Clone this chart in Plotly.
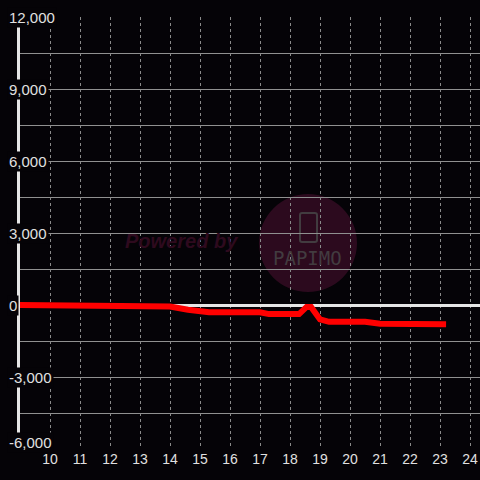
import plotly.graph_objects as go

# data
hours = [9, 12.3, 13.0, 14.0, 14.6, 15.3, 17.0, 17.3, 18.3, 18.55, 18.7,
         19.0, 19.3, 20.5, 21.0, 21.7, 23.2]
balance = [0, 0, -60, -60, -200, -300, -300, -380, -380, -80, -80,
           -600, -700, -700, -780, -800, -800]
x_ticks = list(range(10, 25))
y_ticks = [12000, 9000, 6000, 3000, 0, -3000, -6000]
y_labels = ["12,000", "9,000", "6,000", "3,000", "0", "-3,000", "-6,000"]

bg = "#050307"
fnt = "Liberation Sans, Arial, sans-serif"

fig = go.Figure()
fig.add_trace(go.Scatter(
    x=hours, y=balance, mode="lines",
    line=dict(color="#ff0000", width=6),
    hoverinfo="skip"
))

# y tick labels drawn over the axis with a dark box behind
for v, t in zip(y_ticks, y_labels):
    fig.add_annotation(
        x=0, xref="paper", y=v, yref="y", text=t, showarrow=False,
        xanchor="left", xshift=-13, yshift=7 if v == y_ticks[-1] else 0,
        bgcolor=bg, borderpad=1,
        font=dict(family=fnt, size=15, color="#e0e0e0")
    )

# watermark
fig.add_shape(type="circle", xref="paper", yref="paper",
              x0=0.5196, x1=0.7326, y0=0.3634, y1=0.590,
              fillcolor="#2c0a1e", line=dict(width=0), layer="below")
fig.add_shape(type="path", xref="paper", yref="paper",
              path="M 0.613 0.5463 L 0.641 0.5463 Q 0.6457 0.5463 0.6457 0.541 "
                   "L 0.6457 0.4845 Q 0.6457 0.4792 0.641 0.4792 L 0.613 0.4792 "
                   "Q 0.6087 0.4792 0.6087 0.4845 L 0.6087 0.541 Q 0.6087 0.5463 0.613 0.5463 Z",
              line=dict(color="#423c40", width=2), layer="below")
fig.add_annotation(x=0.35, y=0.4815, xref="paper", yref="paper",
                   text="<b><i>Powered by</i></b>", showarrow=False,
                   font=dict(family=fnt, size=20, color="#2e0a1e"))
fig.add_annotation(x=0.626, y=0.442, xref="paper", yref="paper",
                   text="PAPIMO", showarrow=False,
                   font=dict(family="DejaVu Sans Mono, monospace", size=19, color="#423c40"))

fig.update_layout(
    width=480, height=480,
    margin=dict(l=20, r=0, t=17, b=31),
    paper_bgcolor=bg, plot_bgcolor=bg,
    showlegend=False,
    xaxis=dict(
        range=[9, 24.33], tickmode="array", tickvals=x_ticks,
        showgrid=True, gridcolor="#8a8a8a", gridwidth=1, griddash="dot",
        zeroline=False, showline=False, ticks="",
        tickfont=dict(family=fnt, size=14, color="#e0e0e0"),
    ),
    yaxis=dict(
        range=[-6000, 12000], tickmode="array", tickvals=y_ticks,
        showticklabels=False, ticks="",
        showgrid=True, gridcolor="#909090", gridwidth=1,
        minor=dict(dtick=1500, showgrid=True, gridcolor="#909090", gridwidth=1),
        zeroline=True, zerolinecolor="#e6e6e6", zerolinewidth=3,
        showline=True, linecolor="#e6e6e6", linewidth=3,
    ),
)

fig.write_html("out.html", config={"displayModeBar": False},
               post_script="document.body.style.margin='0';document.body.style.background='%s';" % bg)
